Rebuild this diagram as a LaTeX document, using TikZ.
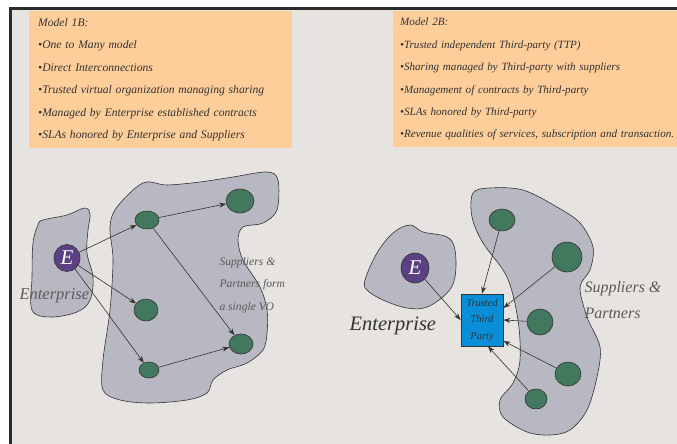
\documentclass[tikz,border=0pt]{standalone}
\usepackage{fontspec}
\setmainfont{Liberation Serif}
\usepackage{tikz}
\usetikzlibrary{arrows.meta, positioning, shapes.geometric}

\definecolor{panelbg}{HTML}{E6E3E0}
\definecolor{framedark}{HTML}{2B2B2B}
\definecolor{notesorange}{HTML}{FDCD9A}
\definecolor{blobgray}{HTML}{B8B8C2}
\definecolor{memgreen}{HTML}{42785E}
\definecolor{entpurple}{HTML}{5C4084}
\definecolor{ttpblue}{HTML}{0A8ED8}
\definecolor{inkdark}{HTML}{333333}
\definecolor{inkgray}{HTML}{5A5A5A}

\begin{document}
\begin{tikzpicture}[x=1pt, y=-1pt,
        notes/.style={fill=notesorange, anchor=north west, align=left, inner ysep=0pt, text=inkdark},
        blob/.style={draw=inkdark, fill=blobgray, line width=0.6pt},
        member/.style={ellipse, draw=inkdark, fill=memgreen, inner sep=0pt, line width=0.6pt},
        ent/.style={ellipse, draw=inkdark, fill=entpurple, inner sep=0pt, text=white, line width=0.6pt, font=\fontsize{21}{21}\selectfont\itshape},
        ttpbox/.style={draw=inkdark, fill=ttpblue, line width=0.8pt, minimum width=42pt, minimum height=52pt, align=center, text=inkdark, font=\fontsize{10.5}{16.5}\selectfont\itshape},
        link/.style={-{Stealth[length=7pt,width=5pt]}, draw=inkdark, line width=0.6pt},
        caption/.style={text=inkgray, align=left, anchor=west}]
    \useasboundingbox (0,0) rectangle (677,444);
    \fill[white] (0,0) rectangle (677,444);
    \fill[panelbg] (10,9) rectangle (677,444);
    \draw[framedark, line width=3pt] (10,444) -- (10,9) -- (677,9);

    % model 1B notes
    \node[notes, text width=245pt, minimum height=137pt, inner xsep=9pt, font=\fontsize{11.6}{22.4}\selectfont\itshape] (notesA) at (29,11) {Model 1B:\\
        •One to Many model\\
        •Direct Interconnections\\
        •Trusted virtual organization managing sharing\\
        •Managed by Enterprise established contracts\\
        •SLAs honored by Enterprise and Suppliers};
    % model 2B notes
    \node[notes, text width=300pt, minimum height=136pt, inner xsep=7pt, font=\fontsize{11.1}{22.4}\selectfont\itshape] (notesB) at (393,11) {Model 2B:\\
        •Trusted independent Third-party (TTP)\\
        •Sharing managed by Third-party with suppliers\\
        •Management of contracts by Third-party\\
        •SLAs honored by Third-party\\
        •Revenue qualities of services, subscription and transaction.};

    % left picture: direct interconnections
    \draw[blob] plot[smooth cycle, tension=0.6] coordinates {(43,220) (67,215) (85,208) (90,215) (88,230) (87,253) (93,277) (90,300) (77,312) (50,317) (32,310) (32,277) (33,243) (38,225)};
    \draw[blob] plot[smooth cycle, tension=0.55] coordinates {(143,183) (167,185) (200,182) (233,177) (267,172) (278,180) (277,210) (263,223) (243,227) (238,240) (243,260) (260,287) (267,310) (267,333) (263,350) (247,363) (227,370) (213,380) (207,393) (187,400) (150,403) (120,400) (103,390) (103,360) (110,310) (113,260) (110,227) (117,207)};

    \node[caption, font=\fontsize{16.5}{16.5}\selectfont\itshape] (entA) at (16,296) {Enterprise};
    \node[caption, font=\fontsize{11.6}{22.5}\selectfont\itshape] (voA) at (216,285) {Suppliers \&\\Partners form\\a single VO};

    \node[ent, minimum width=26pt, minimum height=27pt] (eA) at (67,258) {E};
    \node[member, minimum width=24pt, minimum height=18pt] (a1) at (147,220) {};
    \node[member, minimum width=28pt, minimum height=24pt] (a2) at (240,201) {};
    \node[member, minimum width=24pt, minimum height=22pt] (a3) at (146,310) {};
    \node[member, minimum width=20pt, minimum height=16pt] (a4) at (149,370) {};
    \node[member, minimum width=24pt, minimum height=20pt] (a5) at (241,344) {};

    \draw[link] (eA) -- (a1);
    \draw[link] (eA) -- (a3);
    \draw[link] (eA) -- (a4);
    \draw[link] (a1) -- (a2);
    \draw[link] (a1) -- (a5);
    \draw[link] (a4) -- (a5);

    % right picture: trusted third party
    \draw[blob] plot[smooth cycle, tension=0.6] coordinates {(365,280) (377,253) (393,233) (410,225) (423,232) (447,237) (455,250) (455,277) (447,293) (427,307) (407,308) (383,300) (367,290)};
    \draw[blob] plot[smooth cycle, tension=0.55] coordinates {(473,193) (490,188) (523,190) (557,207) (580,223) (593,247) (590,270) (580,287) (587,317) (600,347) (597,377) (587,410) (570,430) (550,435) (527,432) (503,417) (500,400) (513,383) (520,360) (518,320) (507,277) (483,243) (472,217)};

    \node[caption, text=inkdark, font=\fontsize{20.5}{20.5}\selectfont\itshape] (entB) at (346,326) {Enterprise};
    \node[caption, font=\fontsize{16}{26}\selectfont\itshape] (spB) at (581,300) {Suppliers \&\\Partners};

    \node[ent, minimum width=28pt, minimum height=30pt] (eB) at (415,268) {E};
    \node[ttpbox] (ttp) at (482,320) {Trusted\\Third\\Party};
    \node[member, minimum width=26pt, minimum height=22pt] (b1) at (502,220) {};
    \node[member, minimum width=30pt, minimum height=30pt] (b2) at (567,257) {};
    \node[member, minimum width=26pt, minimum height=26pt] (b3) at (540,322) {};
    \node[member, minimum width=26pt, minimum height=24pt] (b4) at (568,374) {};
    \node[member, minimum width=22pt, minimum height=20pt] (b5) at (536,399) {};

    \draw[link] (eB) -- (ttp.west);
    \draw[link] (b1) -- (ttp.north);
    \draw[link] (b2) -- ([yshift=12pt]ttp.east);
    \draw[link] (b3) -- (ttp.east);
    \draw[link] (b4) -- ([yshift=-21pt]ttp.east);
    \draw[link] (b5) -- ([xshift=6pt]ttp.south);
\end{tikzpicture}
\end{document}
